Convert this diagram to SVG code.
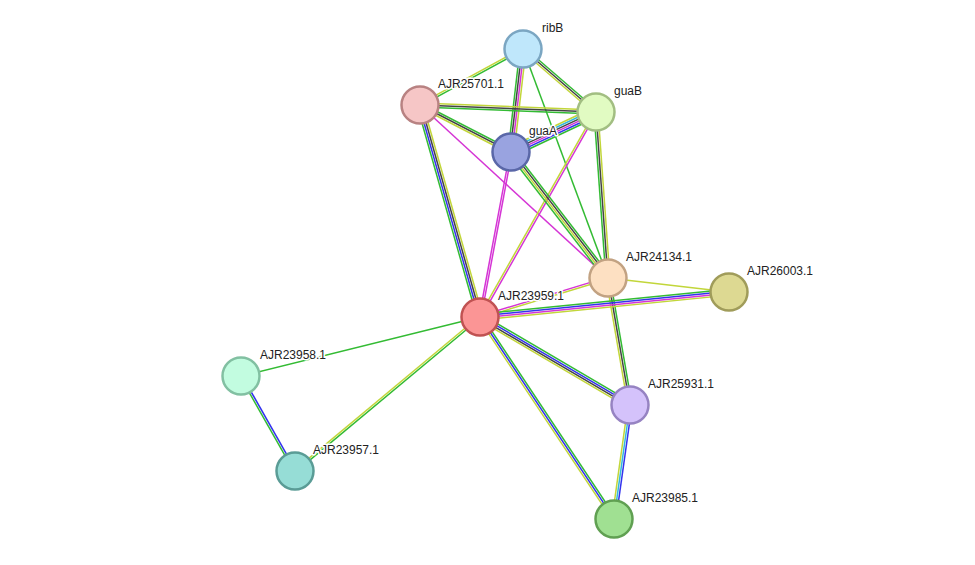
<svg xmlns="http://www.w3.org/2000/svg" width="975" height="565" viewBox="0 0 975 565">
<style>
line{stroke-width:1.5}
.g{stroke:#33bb33}.y{stroke:#c2d63a}.k{stroke:#444}.b{stroke:#3333ee}.m{stroke:#d535d5}.c{stroke:#33b8dd}
circle{stroke-width:2.5}
text{font-family:"Liberation Sans",Arial,sans-serif;font-size:12px;fill:#222;stroke:#fff;stroke-width:3px;paint-order:stroke;stroke-linejoin:round}
</style>
<rect width="975" height="565" fill="#fff"/>
<g id="edges">
<g transform="translate(523 49) rotate(151.5)"><line class="g" x2="117.2" y1="-1" y2="-1"/><line class="y" x2="117.2" y1="1" y2="1"/></g>
<g transform="translate(523 49) rotate(40.8)"><line class="g" x2="96.4" y1="-2" y2="-2"/><line class="k" x2="96.4"/><line class="y" x2="96.4" y1="2" y2="2"/></g>
<g transform="translate(523 49) rotate(96.6)"><line class="y" x2="103.7" y1="-3" y2="-3"/><line class="m" x2="103.7" y1="-1" y2="-1"/><line class="k" x2="103.7" y1="1" y2="1"/><line class="g" x2="103.7" y1="3" y2="3"/></g>
<g transform="translate(523 49) rotate(69.6)"><line class="g" x2="244.3"/></g>
<g transform="translate(420 105) rotate(2.3)"><line class="y" x2="176.1" y1="-2" y2="-2"/><line class="k" x2="176.1"/><line class="g" x2="176.1" y1="2" y2="2"/></g>
<g transform="translate(420 105) rotate(27.3)"><line class="g" x2="102.4" y1="-2" y2="-2"/><line class="k" x2="102.4"/><line class="y" x2="102.4" y1="2" y2="2"/></g>
<g transform="translate(420 105) rotate(42.6)"><line class="m" x2="255.5"/></g>
<g transform="translate(420 105) rotate(74.2)"><line class="y" x2="220.3" y1="-3" y2="-3"/><line class="k" x2="220.3" y1="-1" y2="-1"/><line class="b" x2="220.3" y1="1" y2="1"/><line class="g" x2="220.3" y1="3" y2="3"/></g>
<g transform="translate(596 112) rotate(154.8)"><line class="g" x2="93.9" y1="-5" y2="-5"/><line class="b" x2="93.9" y1="-3" y2="-3"/><line class="m" x2="93.9" y1="-1" y2="-1"/><line class="k" x2="93.9" y1="1" y2="1"/><line class="c" x2="93.9" y1="3" y2="3"/><line class="y" x2="93.9" y1="5" y2="5"/></g>
<g transform="translate(596 112) rotate(85.9)"><line class="y" x2="166.4" y1="-2" y2="-2"/><line class="k" x2="166.4"/><line class="g" x2="166.4" y1="2" y2="2"/></g>
<g transform="translate(596 112) rotate(119.5)"><line class="m" x2="235.5" y1="-1" y2="-1"/><line class="y" x2="235.5" y1="1" y2="1"/></g>
<g transform="translate(511 152) rotate(100.6)"><line class="m" x2="167.9" y1="-1" y2="-1"/><line class="m" x2="167.9" y1="1" y2="1"/></g>
<g transform="translate(511 152) rotate(52.4)"><line class="g" x2="159" y1="-3" y2="-3"/><line class="k" x2="159" y1="-1" y2="-1"/><line class="y" x2="159" y1="1" y2="1"/><line class="g" x2="159" y1="3" y2="3"/></g>
<g transform="translate(480 317) rotate(-16.9)"><line class="m" x2="133.8" y1="-1" y2="-1"/><line class="y" x2="133.8" y1="1" y2="1"/></g>
<g transform="translate(608 278) rotate(6.6)"><line class="y" x2="121.8"/></g>
<g transform="translate(608 278) rotate(80.2)"><line class="g" x2="128.9" y1="-2" y2="-2"/><line class="k" x2="128.9"/><line class="y" x2="128.9" y1="2" y2="2"/></g>
<g transform="translate(480 317) rotate(-5.7)"><line class="g" x2="250.3" y1="-3" y2="-3"/><line class="b" x2="250.3" y1="-1" y2="-1"/><line class="m" x2="250.3" y1="1" y2="1"/><line class="y" x2="250.3" y1="3" y2="3"/></g>
<g transform="translate(480 317) rotate(30.4)"><line class="g" x2="173.9" y1="-3" y2="-3"/><line class="b" x2="173.9" y1="-1" y2="-1"/><line class="k" x2="173.9" y1="1" y2="1"/><line class="y" x2="173.9" y1="3" y2="3"/></g>
<g transform="translate(480 317) rotate(56.4)"><line class="g" x2="242.4" y1="-2" y2="-2"/><line class="b" x2="242.4"/><line class="y" x2="242.4" y1="2" y2="2"/></g>
<g transform="translate(480 317) rotate(166.1)"><line class="g" x2="246.2"/></g>
<g transform="translate(480 317) rotate(140.2)"><line class="g" x2="240.7" y1="-1" y2="-1"/><line class="y" x2="240.7" y1="1" y2="1"/></g>
<g transform="translate(241 376) rotate(60.4)"><line class="b" x2="109.3" y1="-1" y2="-1"/><line class="g" x2="109.3" y1="1" y2="1"/></g>
<g transform="translate(630 405) rotate(98)"><line class="b" x2="115.1" y1="-2" y2="-2"/><line class="c" x2="115.1"/><line class="y" x2="115.1" y1="2" y2="2"/></g>
</g>
<g id="ribB"><circle cx="523" cy="49" r="18.5" fill="#bfe7fb" stroke="#7ba6c2"/><text x="542" y="32">ribB</text></g>
<g id="AJR25701.1"><circle cx="420" cy="105" r="18.5" fill="#f6c6c6" stroke="#b88282"/><text x="438" y="88">AJR25701.1</text></g>
<g id="guaB"><circle cx="596" cy="112" r="18.5" fill="#e1fbc2" stroke="#a2be82"/><text x="614" y="95">guaB</text></g>
<g id="guaA"><circle cx="511" cy="152" r="18.5" fill="#99a3e0" stroke="#5a67a8"/><text x="529" y="135">guaA</text></g>
<g id="AJR24134.1"><circle cx="608" cy="278" r="18.5" fill="#fde0c2" stroke="#c2a282"/><text x="626" y="261">AJR24134.1</text></g>
<g id="AJR26003.1"><circle cx="729" cy="292" r="18.5" fill="#ddd992" stroke="#a09c5a"/><text x="747" y="275">AJR26003.1</text></g>
<g id="AJR23959.1"><circle cx="480" cy="317" r="18.5" fill="#fb9595" stroke="#c05252"/><text x="498" y="300">AJR23959.1</text></g>
<g id="AJR23958.1"><circle cx="241" cy="376" r="18.5" fill="#c2fce0" stroke="#82c0a2"/><text x="260" y="359">AJR23958.1</text></g>
<g id="AJR23957.1"><circle cx="295" cy="471" r="18.5" fill="#96ddd6" stroke="#5a9c96"/><text x="313" y="454">AJR23957.1</text></g>
<g id="AJR25931.1"><circle cx="630" cy="405" r="18.5" fill="#d4c2fb" stroke="#9683c2"/><text x="648" y="388">AJR25931.1</text></g>
<g id="AJR23985.1"><circle cx="614" cy="519" r="18.5" fill="#a0e092" stroke="#60a052"/><text x="632" y="502">AJR23985.1</text></g>
</svg>
